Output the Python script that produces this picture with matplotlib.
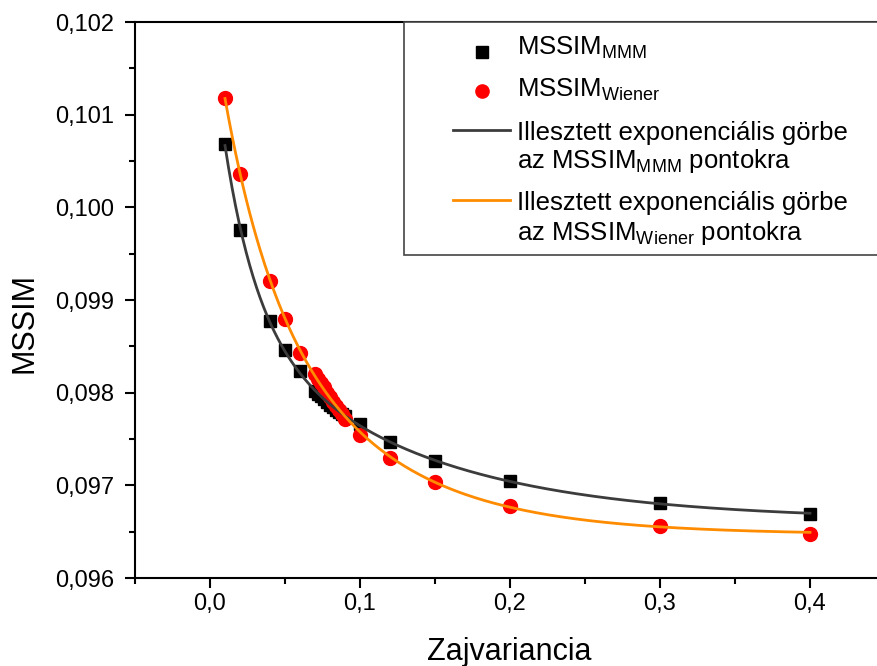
import matplotlib
matplotlib.use('Agg')
import matplotlib.pyplot as plt
from matplotlib.ticker import MultipleLocator, FuncFormatter
from matplotlib.patches import Rectangle
import numpy as np

plt.rcParams['font.family'] = ['Liberation Sans', 'DejaVu Sans']
plt.rcParams['mathtext.fontset'] = 'custom'
plt.rcParams['mathtext.rm'] = 'Liberation Sans'
plt.rcParams['mathtext.it'] = 'Liberation Sans:italic'

# zajvariancia values
x_mmm = [0.01, 0.02, 0.04, 0.05, 0.06, 0.07, 0.072, 0.074, 0.076, 0.078, 0.08,
         0.082, 0.084, 0.086, 0.088, 0.09, 0.1, 0.12, 0.15, 0.2, 0.3, 0.4]
y_mmm = [0.10068, 0.09976, 0.09877, 0.09846, 0.09823, 0.09802, 0.09799, 0.09796,
         0.09793, 0.09790, 0.09787, 0.09784, 0.09781, 0.09779, 0.09777, 0.09775,
         0.09766, 0.09747, 0.09726, 0.09705, 0.09681, 0.09669]
x_wiener = list(x_mmm)
y_wiener = [0.10118, 0.10036, 0.09921, 0.09880, 0.09843, 0.09820, 0.09815, 0.09810,
            0.09806, 0.09800, 0.09795, 0.09790, 0.09786, 0.09781, 0.09777, 0.09772,
            0.09754, 0.09730, 0.09704, 0.09678, 0.09656, 0.09648]


def exp_fit(x, y):
    # y = y0 + A1*exp(-x/t1) + A2*exp(-x/t2); grid over t1, t2, lstsq for the rest
    x = np.asarray(x)
    y = np.asarray(y)
    best = None
    ts = np.geomspace(0.003, 0.5, 120)
    for i, t1 in enumerate(ts):
        for t2 in ts[i:]:
            M = np.column_stack([np.ones_like(x), np.exp(-x / t1), np.exp(-x / t2)])
            coef, *_ = np.linalg.lstsq(M, y, rcond=None)
            err = np.sum((M @ coef - y) ** 2)
            if best is None or err < best[0]:
                best = (err, coef, t1, t2)
    _, coef, t1, t2 = best
    return lambda xx: coef[0] + coef[1] * np.exp(-xx / t1) + coef[2] * np.exp(-xx / t2)


fig = plt.figure(figsize=(8.78, 6.66), dpi=100)
ax = fig.add_axes([135 / 878, 88 / 666, 750 / 878, 556 / 666])

ax.plot(x_mmm, y_mmm, 's', color='black', markersize=9, zorder=3)
ax.plot(x_wiener, y_wiener, 'o', color='#ff0000', markersize=10, zorder=3)

xs = np.linspace(min(x_mmm), max(x_mmm), 500)
f_mmm = exp_fit(x_mmm, y_mmm)
f_wiener = exp_fit(x_wiener, y_wiener)
ax.plot(xs, f_mmm(xs), color='#3c3c3c', lw=2, zorder=4)
ax.plot(xs, f_wiener(xs), color='#ff8c00', lw=2, zorder=4)

ax.set_xlim(-0.05, 0.45)
ax.set_ylim(0.096, 0.102)
ax.xaxis.set_major_locator(MultipleLocator(0.1))
ax.xaxis.set_minor_locator(MultipleLocator(0.05))
ax.yaxis.set_major_locator(MultipleLocator(0.001))
ax.yaxis.set_minor_locator(MultipleLocator(0.0005))
ax.xaxis.set_major_formatter(FuncFormatter(lambda v, p: f'{v:.1f}'.replace('.', ',').replace('-0,0', '0,0')))
ax.yaxis.set_major_formatter(FuncFormatter(lambda v, p: f'{v:.3f}'.replace('.', ',')))
ax.tick_params(axis='both', which='major', direction='out', length=7, width=1.5, labelsize=17)
ax.tick_params(axis='x', which='major', pad=4)
ax.tick_params(axis='y', which='major', pad=8)
ax.tick_params(which='minor', direction='out', length=4, width=1.5)
for s in ax.spines.values():
    s.set_linewidth(1.5)
ax.set_xlabel('Zajvariancia', fontsize=22)
ax.set_ylabel('MSSIM', fontsize=22)
ax.xaxis.set_label_coords(0.4987, -0.106)
ax.yaxis.set_label_coords(-0.127, 0.459)

# legend, drawn by hand so that each handle sits on the first text line
ax.add_patch(Rectangle((0.3587, 0.581), 0.8, 0.419, transform=ax.transAxes,
                       facecolor='white', edgecolor='#444444', lw=1.2,
                       zorder=5, clip_on=False))
leg_rows = [  # (handle, colour, text, row pixel y of text baseline, handle y)
    ('s', 'black', r'MSSIM$_{\mathrm{MMM}}$', 55, 52),
    ('o', '#ff0000', r'MSSIM$_{\mathrm{Wiener}}$', 97, 91),
    ('-', '#3c3c3c', 'Illesztett exponenciális görbe', 140, 130),
    (None, None, r'az MSSIM$_{\mathrm{MMM}}$ pontokra', 168, None),
    ('-', '#ff8c00', 'Illesztett exponenciális görbe', 210, 200),
    (None, None, r'az MSSIM$_{\mathrm{Wiener}}$ pontokra', 240, None),
]
to_ax = lambda py: (578 - py) / 556
for kind, col, txt, ty, hy in leg_rows:
    if kind == '-':
        ax.plot([0.424, 0.5], [to_ax(hy)] * 2, color=col, lw=2,
                transform=ax.transAxes, clip_on=False, zorder=6)
    elif kind == 's':
        ax.plot([0.4627], [to_ax(hy)], 's', color=col, markersize=8,
                transform=ax.transAxes, clip_on=False, zorder=6)
    elif kind == 'o':
        ax.plot([0.4627], [to_ax(hy)], 'o', color=col, markersize=9.5,
                transform=ax.transAxes, clip_on=False, zorder=6)
    ax.text(0.5093, to_ax(ty), txt, transform=ax.transAxes, fontsize=18.5,
            va='baseline', ha='left', zorder=6)

fig.savefig('out.png', dpi=100)
